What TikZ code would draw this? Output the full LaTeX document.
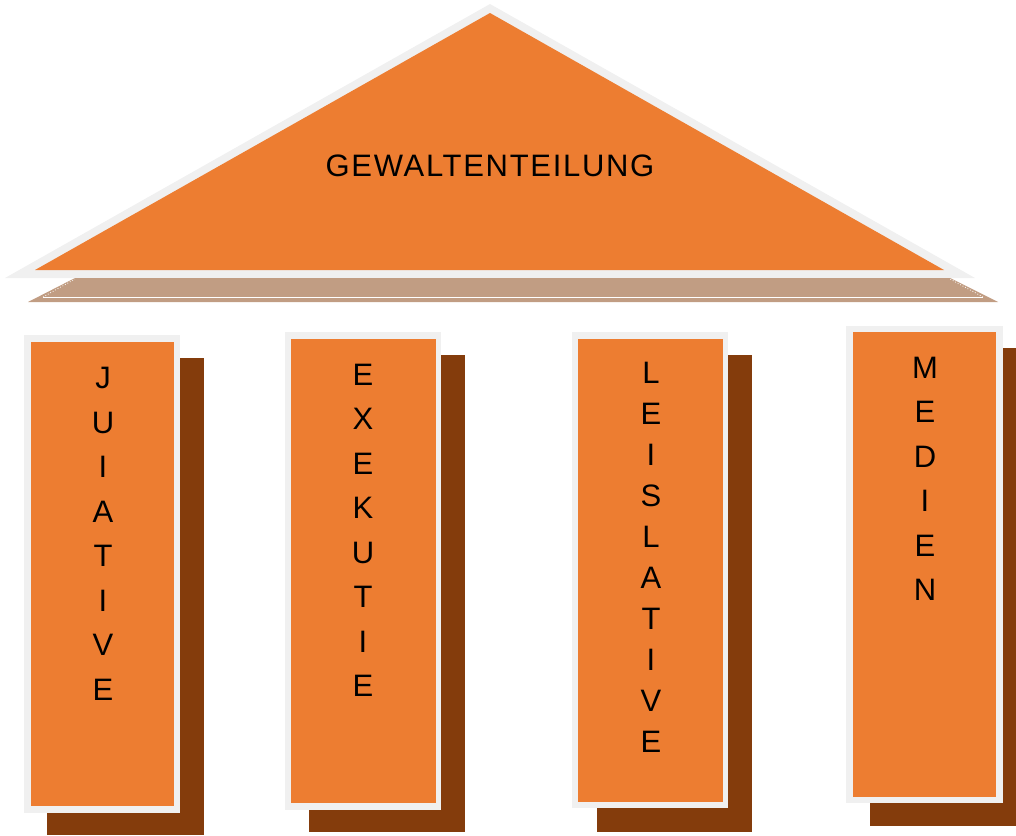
\documentclass[tikz,border=0pt]{standalone}
\usepackage{fontspec}
\setmainfont{Liberation Sans}
\definecolor{roof}{HTML}{ED7D31}
\definecolor{frame}{HTML}{F0F0F0}
\definecolor{shadowbrown}{HTML}{843C0C}
\definecolor{beam}{HTML}{C19D83}
\tikzset{
  letters/.style={align=center, inner sep=0pt, font=\fontsize{31}{44.5}\selectfont},
  titletext/.style={inner sep=0pt, font=\fontsize{31}{36}\selectfont\addfontfeatures{LetterSpace=5.5}},
}
\begin{document}
\begin{tikzpicture}[x=1pt,y=-1pt]
\useasboundingbox (0,0) rectangle (1016,835);
% roof
\fill[frame] (490,4) -- (975,278) -- (5,278) -- cycle;
\fill[roof] (490,13) -- (944,270) -- (35,270) -- cycle;
\node[titletext] (title) at (490,166) {GEWALTENTEILUNG};
% beam
\fill[beam] (28,302) -- (75,278) -- (950,278) -- (998,302) -- cycle;
\draw[white, line width=0.8pt] (43,297) -- (983,297);
\draw[white, line width=0.8pt, dotted] (43,297) -- (75,279);
\draw[white, line width=0.8pt, dotted] (983,297) -- (950,279);
% pillar 1
\fill[shadowbrown] (47,358) rectangle (204,835);
\fill[frame] (24,335) rectangle (180,813);
\fill[roof] (31,342) rectangle (174,806);
\node[letters] (p1) at (103,534) {J\\U\\I\\A\\T\\I\\V\\E};
% pillar 2
\fill[shadowbrown] (309,355) rectangle (465,832);
\fill[frame] (285,332) rectangle (441,810);
\fill[roof] (291,339) rectangle (436,803);
\node[letters] (p2) at (363,530.5) {E\\X\\E\\K\\U\\T\\I\\E};
% pillar 3
\fill[shadowbrown] (597,355) rectangle (752,832);
\fill[frame] (572,332) rectangle (728,808);
\fill[roof] (578,339) rectangle (723,802);
\node[letters, font=\fontsize{31}{41}\selectfont] (p3) at (651,557.5) {L\\E\\I\\S\\L\\A\\T\\I\\V\\E};
% pillar 4
\fill[shadowbrown] (870,348) rectangle (1016,826);
\fill[frame] (846,326) rectangle (1003,803);
\fill[roof] (853,332) rectangle (996,797);
\node[letters] (p4) at (925,479) {M\\E\\D\\I\\E\\N};
\end{tikzpicture}
\end{document}
